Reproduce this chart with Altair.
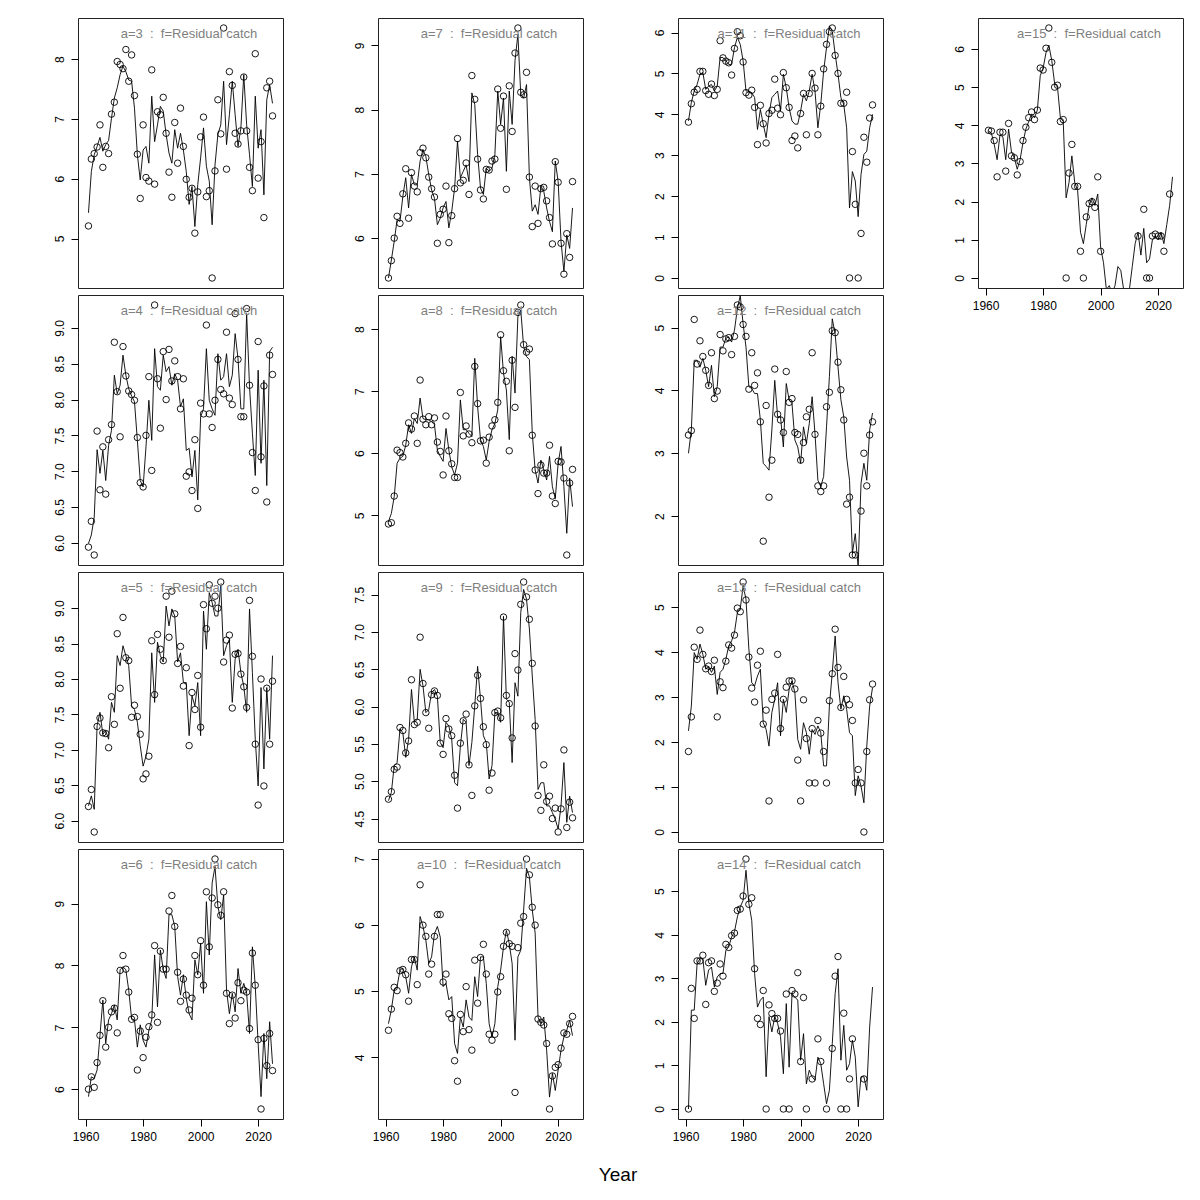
import altair as alt
import pandas as pd

years = list(range(1961, 2026))

obs_a3 = [5.21,6.33,6.42,6.53,6.90,6.19,6.54,6.42,7.08,7.28,7.96,7.91,7.84,8.16,7.63,8.07,7.39,6.41,5.67,6.90,6.02,5.96,7.82,5.91,7.12,7.07,7.36,6.76,6.11,5.69,6.94,6.26,7.18,6.54,5.99,5.69,5.84,5.09,5.78,6.70,7.03,5.70,5.80,4.34,6.13,7.32,6.75,8.52,6.16,7.79,7.56,6.76,6.58,6.80,7.70,6.80,6.19,5.80,8.09,6.01,6.62,5.35,7.52,7.63,7.05]
fit_a3 = [5.43,6.12,6.40,6.54,6.69,6.46,6.57,6.64,7.01,7.35,7.52,7.74,7.88,7.79,7.65,7.63,7.18,6.40,5.98,6.48,6.54,6.26,7.38,6.62,6.90,7.21,7.13,6.74,6.43,6.26,6.82,6.51,6.76,6.48,6.12,5.57,5.87,5.20,5.90,6.35,6.85,6.21,5.96,5.23,6.23,6.74,6.90,7.63,6.57,7.07,7.63,7.07,6.54,6.85,7.74,6.90,6.40,5.87,7.38,6.51,6.82,5.73,7.32,7.57,7.26]

obs_a4 = [5.94,6.30,5.83,7.56,6.74,7.34,6.68,7.44,7.65,8.80,8.11,7.48,8.74,8.33,8.12,8.07,7.99,7.47,6.84,6.78,7.50,8.32,7.01,9.32,8.29,7.60,8.67,8.00,8.70,8.26,8.54,8.32,7.87,8.29,6.93,6.99,6.73,7.44,6.48,7.95,7.80,9.04,7.80,7.61,7.99,8.56,8.14,8.08,8.94,8.02,7.93,9.20,8.56,7.76,7.76,9.27,8.20,7.26,6.73,8.81,7.20,8.19,6.57,8.62,8.35]
fit_a4 = [5.99,6.11,6.36,7.30,6.97,7.29,6.87,7.36,7.57,8.34,8.08,8.20,8.62,8.34,8.15,8.05,7.97,7.43,6.87,6.78,7.34,7.99,7.43,8.71,8.18,8.13,8.62,8.39,8.46,8.20,8.36,8.27,7.90,8.01,7.29,7.32,6.92,7.29,6.60,7.76,7.87,8.71,7.99,7.87,7.78,8.64,8.27,8.32,8.64,8.18,8.34,8.92,8.57,7.87,7.87,9.20,8.18,7.53,6.94,8.41,7.11,8.27,6.80,8.67,8.73]

obs_a5 = [6.20,6.44,5.84,7.33,7.45,7.24,7.23,7.03,7.75,7.36,8.64,7.87,8.87,8.30,8.26,7.46,7.63,7.47,7.22,6.59,6.66,6.91,8.54,7.78,8.63,8.42,8.26,9.17,8.59,9.24,8.92,8.22,8.46,7.90,8.16,7.06,7.81,7.57,8.05,7.32,9.05,8.71,9.33,9.07,9.17,9.00,9.37,8.24,8.55,8.62,7.59,8.35,8.36,8.07,7.89,7.60,9.11,8.32,7.08,6.22,8.00,6.49,7.87,7.08,7.97]
fit_a5 = [6.21,6.35,6.16,7.34,7.53,7.22,7.27,7.15,7.67,7.53,8.33,8.19,8.47,8.33,8.19,7.62,7.57,7.39,7.06,6.77,6.91,7.15,8.37,7.67,8.52,8.33,8.24,9.03,8.75,8.99,8.89,8.24,8.37,7.95,7.95,7.20,7.76,7.62,7.95,7.20,8.96,8.42,9.22,9.08,8.89,8.89,9.32,8.33,8.47,8.56,7.67,8.28,8.42,8.09,7.90,7.53,8.99,8.09,7.15,6.49,7.88,6.73,7.88,7.15,8.33]

obs_a6 = [6.00,6.20,6.03,6.43,6.87,7.43,6.68,7.00,7.25,7.31,6.91,7.92,8.16,7.94,7.57,7.13,7.16,6.31,6.94,6.51,6.84,7.01,7.20,8.32,7.08,8.23,7.94,7.94,8.88,9.13,8.63,7.89,7.42,7.78,7.52,7.28,7.47,8.16,7.85,8.40,7.68,9.19,8.30,9.09,9.72,8.98,8.81,9.19,7.55,7.06,7.52,7.15,7.72,7.43,7.60,7.57,6.98,8.20,7.68,6.80,5.68,6.82,6.38,6.90,6.30]
fit_a6 = [5.88,6.20,6.17,6.31,6.87,7.44,6.74,7.12,7.22,7.36,7.12,7.93,7.98,7.93,7.60,7.14,7.12,6.68,7.04,6.79,6.68,6.95,7.12,8.17,7.33,8.25,7.93,7.79,8.82,8.82,8.63,7.82,7.52,7.85,7.47,7.22,7.12,8.09,7.85,8.36,7.55,9.03,8.17,9.33,9.60,8.95,8.74,9.14,7.60,7.22,7.55,7.25,7.95,7.55,7.71,7.55,6.90,8.30,7.66,6.74,5.88,6.90,6.17,7.09,6.41]

obs_a7 = [5.38,5.65,6.00,6.34,6.23,6.69,7.08,6.31,7.02,6.81,6.72,7.33,7.40,7.25,6.95,6.77,6.64,5.92,6.37,6.45,6.81,5.93,6.35,6.77,7.55,6.86,6.90,7.17,6.68,8.53,8.16,7.23,6.75,6.61,7.07,7.06,7.20,7.23,8.32,7.71,8.21,6.76,8.37,7.66,8.88,9.27,8.27,8.23,8.58,6.95,6.18,6.81,6.23,6.77,6.79,6.58,6.32,5.91,7.19,6.87,5.92,5.44,6.07,5.70,6.88]
fit_a7 = [5.38,5.66,5.95,6.29,6.26,6.65,6.94,6.47,6.99,6.83,6.83,7.20,7.38,7.27,6.99,6.75,6.62,6.21,6.31,6.47,6.57,6.16,6.42,6.78,7.51,6.94,7.04,7.14,6.88,8.26,8.08,7.30,6.78,6.68,7.09,7.04,7.09,7.30,8.29,7.77,8.18,7.04,8.29,7.77,8.76,9.17,8.24,8.18,8.39,6.94,6.42,6.52,6.37,6.81,6.73,6.47,6.26,6.10,7.20,6.88,5.95,5.48,6.05,5.84,6.47]

obs_a8 = [4.86,4.88,5.31,6.05,6.01,5.94,6.16,6.49,6.39,6.60,6.16,7.18,6.55,6.46,6.59,6.46,6.57,6.18,6.03,5.65,6.60,6.04,5.83,5.61,5.61,6.98,6.28,6.44,6.31,6.17,7.40,6.80,6.20,6.21,5.84,6.26,6.44,6.54,6.82,7.91,7.33,7.16,6.04,7.50,6.74,8.27,8.39,7.75,7.63,7.68,6.29,5.73,5.35,5.81,5.68,5.68,6.13,5.31,5.19,5.87,5.86,5.60,4.36,5.52,5.74]
fit_a8 = [4.90,5.03,5.30,5.84,5.92,5.95,6.13,6.46,6.32,6.56,6.48,6.89,6.56,6.54,6.54,6.51,6.46,6.05,5.95,5.87,6.40,6.05,5.78,5.65,5.84,6.86,6.38,6.38,6.32,6.27,7.53,6.75,6.22,6.11,5.89,6.19,6.38,6.48,6.70,7.88,7.29,7.02,6.22,7.56,6.97,8.20,8.31,7.72,7.56,7.51,6.32,5.73,5.52,5.89,5.73,5.57,5.95,5.46,5.27,5.84,6.11,5.46,4.71,5.60,5.14]

obs_a9 = [4.76,4.86,5.16,5.19,5.72,5.68,5.38,5.54,6.36,5.76,5.79,6.93,6.31,5.92,5.71,6.16,6.21,6.15,5.51,5.36,5.84,5.70,5.61,5.08,4.64,5.51,5.81,5.90,5.22,4.81,6.01,6.42,6.11,5.73,5.49,4.88,5.11,5.92,5.94,5.85,7.20,6.15,6.04,5.58,6.71,6.49,7.37,7.67,7.47,7.17,6.58,5.74,4.81,4.61,5.22,4.73,4.80,4.50,4.64,4.32,4.63,5.42,4.38,4.72,4.51]
fit_a9 = [4.74,4.85,5.21,5.25,5.70,5.65,5.32,5.56,6.23,5.79,5.83,6.50,6.28,5.92,5.96,6.19,6.23,6.14,5.52,5.45,5.79,5.74,5.56,4.98,4.94,5.47,5.83,5.79,5.21,5.52,6.01,6.54,6.10,5.61,5.52,5.03,5.21,5.92,5.92,5.79,7.21,6.10,6.06,5.25,6.32,6.14,7.26,7.57,7.44,7.04,6.41,5.83,4.89,4.98,4.98,4.67,4.67,4.58,4.49,4.36,4.67,5.25,4.45,4.80,4.58]

obs_a10 = [4.41,4.73,5.06,5.01,5.31,5.33,5.25,4.85,5.48,5.48,5.10,6.61,6.00,5.83,5.26,5.41,5.83,6.16,6.16,5.14,5.26,4.66,4.59,3.95,3.64,4.65,4.39,5.07,4.42,4.11,5.47,4.82,5.51,5.71,5.26,4.35,4.26,4.35,4.99,5.22,5.68,5.89,5.72,5.68,3.47,5.66,6.03,6.13,7.00,6.76,6.27,6.00,4.58,4.53,4.49,4.21,3.22,3.72,3.85,3.89,4.14,4.37,4.35,4.51,4.62]
fit_a10 = [4.51,4.72,5.02,5.07,5.32,5.35,5.22,4.97,5.37,5.52,5.32,6.13,5.98,5.77,5.42,5.52,5.87,5.98,5.82,5.07,5.12,4.87,4.92,4.21,4.06,4.61,4.46,4.87,4.61,4.56,5.22,4.92,5.52,5.52,5.12,4.51,4.31,4.51,5.07,5.32,5.67,5.92,5.72,5.42,4.26,5.52,5.62,6.23,6.86,6.73,6.23,5.88,4.61,4.51,4.61,4.11,3.40,3.76,3.50,3.81,4.11,4.31,4.41,4.56,4.33]

obs_a11 = [3.81,4.26,4.54,4.61,5.05,5.05,4.58,4.49,4.74,4.46,4.61,5.80,5.38,5.30,5.26,4.96,5.61,6.02,5.92,5.28,4.53,4.47,4.59,4.17,3.26,4.22,3.77,3.30,4.02,4.10,4.86,4.15,3.99,5.02,4.65,4.17,3.36,3.47,3.18,4.02,4.51,3.50,4.51,5.00,4.64,3.50,4.20,5.11,5.71,6.02,6.11,5.44,5.00,4.27,4.27,4.54,0.00,3.09,1.80,0.00,1.09,3.44,2.83,3.91,4.23]
fit_a11 = [3.84,4.29,4.57,4.73,4.98,5.02,4.61,4.69,4.73,4.57,4.69,5.39,5.39,5.31,5.22,5.22,5.63,5.88,5.71,5.31,4.57,4.57,4.53,4.41,3.63,4.12,3.76,3.43,4.00,4.41,4.49,4.57,4.08,4.98,4.65,4.16,3.84,3.76,3.76,4.08,4.49,4.33,4.57,4.98,4.57,3.67,4.24,5.06,5.63,6.16,6.04,5.47,4.98,4.41,4.24,3.67,1.71,2.60,2.37,1.50,2.53,3.02,3.10,3.67,4.00]

obs_a12 = [3.29,3.36,5.13,4.42,4.79,4.54,4.32,4.08,4.60,3.87,3.99,4.89,4.63,4.82,4.84,4.57,4.86,5.36,5.33,5.05,4.86,4.02,4.60,4.08,4.28,3.50,1.60,3.76,2.30,2.89,4.34,3.62,3.53,3.33,4.30,3.81,3.87,3.33,3.30,2.89,3.17,3.58,3.70,4.60,3.30,2.48,2.39,2.48,3.74,3.97,4.95,4.92,4.45,4.01,3.53,2.19,2.30,1.38,1.38,None,2.08,3.00,2.48,3.29,3.50]
fit_a12 = [3.00,3.37,4.48,4.48,4.37,4.51,4.32,4.06,4.40,3.90,4.06,4.69,4.69,4.83,4.85,4.77,4.96,5.30,5.51,5.06,4.69,4.06,4.03,3.95,3.95,3.53,2.84,2.79,2.73,3.37,4.16,3.58,3.58,3.10,4.11,3.85,3.79,3.21,3.10,2.84,3.42,3.16,3.47,3.90,3.31,2.57,2.47,2.63,3.42,4.22,5.14,4.90,4.37,3.85,3.58,2.94,2.57,1.41,1.72,1.19,2.52,2.84,2.57,3.37,3.64]

obs_a13 = [1.79,2.56,4.11,3.84,4.49,3.95,3.63,3.69,3.57,3.82,2.56,3.34,3.21,3.80,4.16,4.09,4.38,4.98,4.90,5.56,5.16,3.89,3.20,2.89,3.71,4.02,2.40,2.71,0.69,2.95,3.09,3.95,2.30,2.95,3.22,3.36,3.36,3.18,1.60,0.69,2.94,2.08,1.09,2.30,1.09,2.48,2.20,1.79,1.09,2.92,3.52,4.51,3.66,2.77,3.46,2.95,2.83,2.48,1.09,1.39,1.09,0.00,1.79,2.94,3.29]
fit_a13 = [2.25,2.80,3.99,3.84,4.18,3.95,3.62,3.69,3.55,3.69,3.06,3.55,3.62,3.84,4.14,4.25,4.44,4.88,4.96,5.47,5.18,4.07,3.32,3.25,3.47,3.62,2.43,2.28,1.91,2.66,2.95,3.32,2.14,2.95,2.66,3.17,3.36,3.10,2.06,1.84,2.43,2.21,1.73,2.28,2.17,2.36,2.21,1.47,1.47,2.80,3.55,4.36,3.32,2.73,3.03,2.73,2.21,2.14,0.81,1.25,1.02,0.65,1.91,2.80,3.21]

obs_a14 = [0.00,2.77,2.08,3.40,3.40,3.53,2.40,3.36,3.40,2.70,2.89,3.33,3.05,3.78,3.71,3.98,4.04,4.56,4.59,4.89,5.74,4.70,4.85,3.22,2.08,1.94,2.72,0.00,2.39,2.19,2.08,2.08,1.79,0.00,2.64,0.00,2.72,2.64,3.13,1.09,2.56,0.00,None,0.69,None,1.61,1.09,None,0.00,None,1.39,3.05,3.50,0.00,2.20,0.00,0.69,1.61,None,None,None,0.69,None,None,None]
fit_a14 = [0.00,2.27,2.27,3.34,3.45,3.45,2.84,3.19,3.26,2.80,3.03,3.11,3.11,3.64,3.72,3.95,4.07,4.41,4.64,4.79,5.48,4.72,4.33,3.11,2.34,2.50,2.57,0.74,2.12,1.77,2.12,1.97,1.66,0.81,2.42,0.96,2.65,2.57,2.50,1.12,1.73,0.58,0.89,0.74,0.66,1.19,1.04,0.58,0.12,0.43,1.50,2.65,3.22,1.12,1.92,0.89,1.04,1.58,1.19,0.05,0.74,0.74,0.43,1.88,2.80]

obs_a15 = [3.87,3.85,3.60,2.65,3.82,3.82,2.80,4.05,3.20,3.15,2.70,3.05,3.60,3.95,4.20,4.35,4.15,4.40,5.50,5.45,6.02,6.55,5.65,5.00,5.05,4.10,4.15,0.00,2.75,3.50,2.40,2.40,0.70,0.00,1.60,1.95,2.00,1.85,2.65,0.70,None,None,None,None,None,None,None,None,None,None,None,None,1.10,None,1.80,0.00,0.00,1.10,1.15,1.10,1.10,0.70,None,2.20,None]
fit_a15 = [3.85,3.80,3.50,3.10,3.75,3.70,3.10,3.90,3.30,3.15,2.85,3.10,3.55,3.90,4.10,4.30,4.20,4.40,5.30,5.50,5.90,6.10,5.70,5.10,5.00,4.20,4.10,2.10,2.50,3.20,2.50,2.30,1.20,0.90,1.40,1.90,2.10,1.90,2.20,0.80,0.40,-0.30,-0.20,-0.40,-0.20,0.30,0.20,-0.30,-0.60,-0.30,0.30,0.90,1.20,0.60,1.30,0.40,0.50,1.00,1.10,1.00,1.20,0.90,1.40,1.90,2.65]

ticks = {
    3: [5, 6, 7, 8], 4: [6.0, 6.5, 7.0, 7.5, 8.0, 8.5, 9.0], 5: [6.0, 6.5, 7.0, 7.5, 8.0, 8.5, 9.0],
    6: [6, 7, 8, 9], 7: [6, 7, 8, 9], 8: [5, 6, 7, 8], 9: [4.5, 5.0, 5.5, 6.0, 6.5, 7.0, 7.5],
    10: [4, 5, 6, 7], 11: [0, 1, 2, 3, 4, 5, 6], 12: [2, 3, 4, 5], 13: [0, 1, 2, 3, 4, 5],
    14: [0, 1, 2, 3, 4, 5], 15: [0, 1, 2, 3, 4, 5, 6],
}
series = {3: (obs_a3, fit_a3), 4: (obs_a4, fit_a4), 5: (obs_a5, fit_a5), 6: (obs_a6, fit_a6),
          7: (obs_a7, fit_a7), 8: (obs_a8, fit_a8), 9: (obs_a9, fit_a9), 10: (obs_a10, fit_a10),
          11: (obs_a11, fit_a11), 12: (obs_a12, fit_a12), 13: (obs_a13, fit_a13),
          14: (obs_a14, fit_a14), 15: (obs_a15, fit_a15)}
year_ticks = [1960, 1980, 2000, 2020]

FONT = "Liberation Sans"
PW, PH = 205, 270
NB = "\u00a0"


def panel(a, show_x):
    obs, fit = series[a]
    df = pd.DataFrame({"year": years, "obs": obs, "fit": fit})
    vals = [v for v in obs if v is not None]
    lo, hi = min(vals), max(vals)
    r = hi - lo
    dom = [lo - 0.04 * r, hi + 0.04 * r]
    tv = ticks[a]
    fmt = ".1f" if any(abs(t - round(t)) > 1e-9 for t in tv) else "d"
    xscale = alt.Scale(domain=[1957.36, 2028.64], nice=False, zero=False)
    yscale = alt.Scale(domain=dom, nice=False, zero=False)
    if show_x:
        xaxis = alt.Axis(values=year_ticks, format="d", title=None, labelPadding=5)
    else:
        xaxis = None
    yaxis = alt.Axis(values=tv, format=fmt, title=None, labelAngle=-90, labelPadding=5)
    base = alt.Chart(df)
    line = base.mark_line(color="black", strokeWidth=0.9, clip=True).encode(
        x=alt.X("year:Q", scale=xscale, axis=xaxis),
        y=alt.Y("fit:Q", scale=yscale, axis=yaxis),
    )
    pts = base.mark_point(shape="circle", filled=False, color="black", size=42,
                          strokeWidth=0.9, opacity=1).encode(
        x=alt.X("year:Q", scale=xscale, axis=xaxis),
        y=alt.Y("obs:Q", scale=yscale, axis=yaxis),
    )
    label = f"a={a}{NB}{NB}:{NB}{NB}f=Residual catch"
    lab = alt.Chart(pd.DataFrame({"t": [label]})).mark_text(
        font=FONT, fontSize=13, color="#808080", align="center", baseline="alphabetic"
    ).encode(x=alt.value(111), y=alt.value(20), text="t:N")
    return alt.layer(line, pts, lab).properties(width=PW, height=PH)


def blank():
    return alt.Chart(pd.DataFrame({"x": [0]})).mark_point(opacity=0).encode(
        x=alt.X("x:Q", axis=None), y=alt.Y("x:Q", axis=None)
    ).properties(width=PW, height=PH, view=alt.ViewBackground(stroke="transparent"))


cells = [
    panel(3, False), panel(7, False), panel(11, False), panel(15, True),
    panel(4, False), panel(8, False), panel(12, False), blank(),
    panel(5, False), panel(9, False), panel(13, False), blank(),
    panel(6, True), panel(10, True), panel(14, True),
]

chart = alt.concat(*cells, columns=4, spacing={"row": 7, "column": 95}, bounds="flush").properties(
    title=alt.TitleParams(text="Year", orient="bottom", anchor="middle", fontSize=19,
                          fontWeight="normal", font=FONT, color="black", offset=23),
    padding={"left": 44, "top": 9, "right": 5, "bottom": 5},
).configure_view(stroke="#222222", strokeWidth=1).configure_axis(
    labelFont=FONT, labelFontSize=12, labelColor="black", tickColor="black", tickSize=7,
    tickWidth=1, domain=False, grid=False, labelOverlap=False
)

chart.save("out.html", embed_options={"renderer": "svg", "actions": False})
